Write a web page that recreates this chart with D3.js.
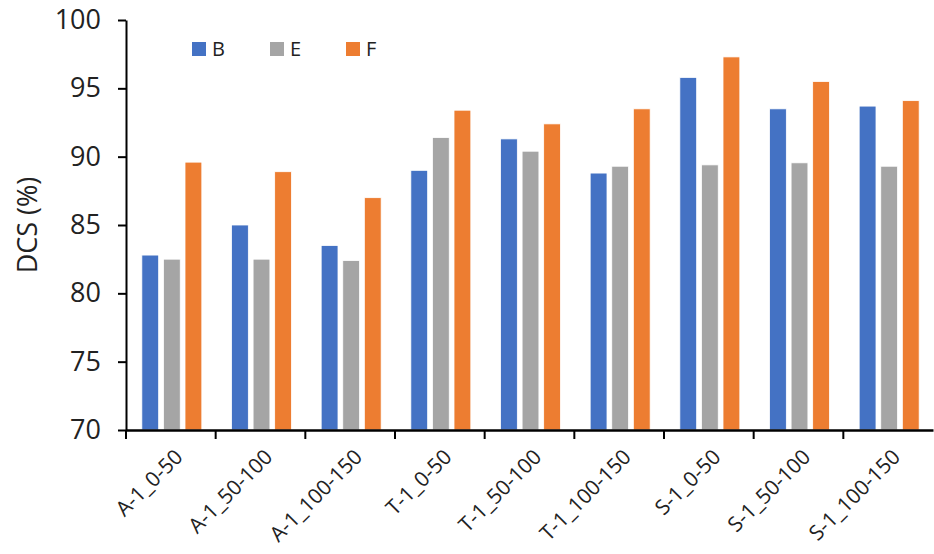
<!DOCTYPE html>
<html>
<head>
<meta charset="utf-8">
<script src="https://cdn.jsdelivr.net/npm/d3@7"></script>
<style>
  body { margin: 0; background: #fff; }
  svg { display: block; }
  text { font-family: "Open Sans", "Noto Sans", sans-serif; fill: #222; }
</style>
</head>
<body>
<svg id="chart" width="934" height="554"></svg>
<script>
// Sample/depth categories along the x axis
const categories = [
  "A-1_0-50", "A-1_50-100", "A-1_100-150",
  "T-1_0-50", "T-1_50-100", "T-1_100-150",
  "S-1_0-50", "S-1_50-100", "S-1_100-150"
];
// DCS values (%) per series
const seriesNames = ["B", "E", "F"];
const valuesB = [82.8, 85.0, 83.5, 89.0, 91.3, 88.8, 95.8, 93.5, 93.7];
const valuesE = [82.5, 82.5, 82.4, 91.4, 90.4, 89.3, 89.4, 89.55, 89.3];
const valuesF = [89.6, 88.9, 87.0, 93.4, 92.4, 93.5, 97.3, 95.5, 94.1];
const yTicks = [70, 75, 80, 85, 90, 95, 100];
const colors = ["#4472C4", "#A5A5A5", "#ED7D31"];

const series = [valuesB, valuesE, valuesF];

const svg = d3.select("#chart");
const margin = { left: 126, right: 1, top: 20, bottom: 124 };
const width = 934 - margin.left - margin.right;
const height = 554 - margin.top - margin.bottom;

const g = svg.append("g").attr("transform", `translate(${margin.left},${margin.top})`);

const x = d3.scaleBand().domain(categories).range([0, width]).padding(0);
const xInner = d3.scaleBand().domain(seriesNames)
  .range([x.bandwidth() / 2 - 29, x.bandwidth() / 2 + 31]).paddingInner(0.22).paddingOuter(0);
const y = d3.scaleLinear().domain([70, 100]).range([height, 0]);

// Bars
seriesNames.forEach((name, si) => {
  g.append("g").selectAll("rect")
    .data(categories.map((c, i) => ({ c, v: series[si][i] })))
    .join("rect")
    .attr("x", d => x(d.c) + xInner(name))
    .attr("y", d => y(d.v))
    .attr("width", xInner.bandwidth())
    .attr("height", d => y(70) - y(d.v))
    .attr("fill", colors[si])
    .attr("stroke", "#fff")
    .attr("stroke-width", 0.8);
});

// Y axis
const yAxis = g.append("g")
  .call(d3.axisLeft(y).tickValues(yTicks).tickSize(8).tickPadding(17).tickSizeOuter(0));
yAxis.select(".domain").attr("stroke", "#000").attr("stroke-width", 2);
yAxis.selectAll(".tick line").attr("stroke", "#000").attr("stroke-width", 2);
yAxis.selectAll(".tick text").style("font-size", "27px").attr("fill", "#222");

// X axis
const xAxis = g.append("g").attr("transform", `translate(0,${height})`)
  .call(d3.axisBottom(x).tickSize(0).tickSizeOuter(0));
xAxis.select(".domain").attr("stroke", "#000").attr("stroke-width", 2.5);
xAxis.selectAll(".tick text")
  .style("font-size", "21px").attr("fill", "#222")
  .attr("text-anchor", "end")
  .attr("transform", "translate(8,23) rotate(-45)")
  .attr("dy", "0.35em").attr("y", 0).attr("x", 0);
// Tick marks on category boundaries
xAxis.append("g").selectAll("line")
  .data(categories.map(c => x(c)))
  .join("line")
  .attr("x1", d => d).attr("x2", d => d)
  .attr("y1", 0).attr("y2", 9)
  .attr("stroke", "#000").attr("stroke-width", 2);

// Y axis title
svg.append("text")
  .attr("transform", `translate(37,${margin.top + height / 2}) rotate(-90)`)
  .attr("text-anchor", "middle")
  .style("font-size", "27px")
  .text("DCS (%)");

// Legend
const legendX = [192, 270, 346];
const legend = svg.append("g");
seriesNames.forEach((name, i) => {
  legend.append("rect")
    .attr("x", legendX[i]).attr("y", 42)
    .attr("width", 14).attr("height", 14)
    .attr("fill", colors[i]);
  legend.append("text")
    .attr("x", legendX[i] + 20).attr("y", 49)
    .attr("dy", "0.36em")
    .style("font-size", "20px")
    .text(name);
});
</script>
</body>
</html>
